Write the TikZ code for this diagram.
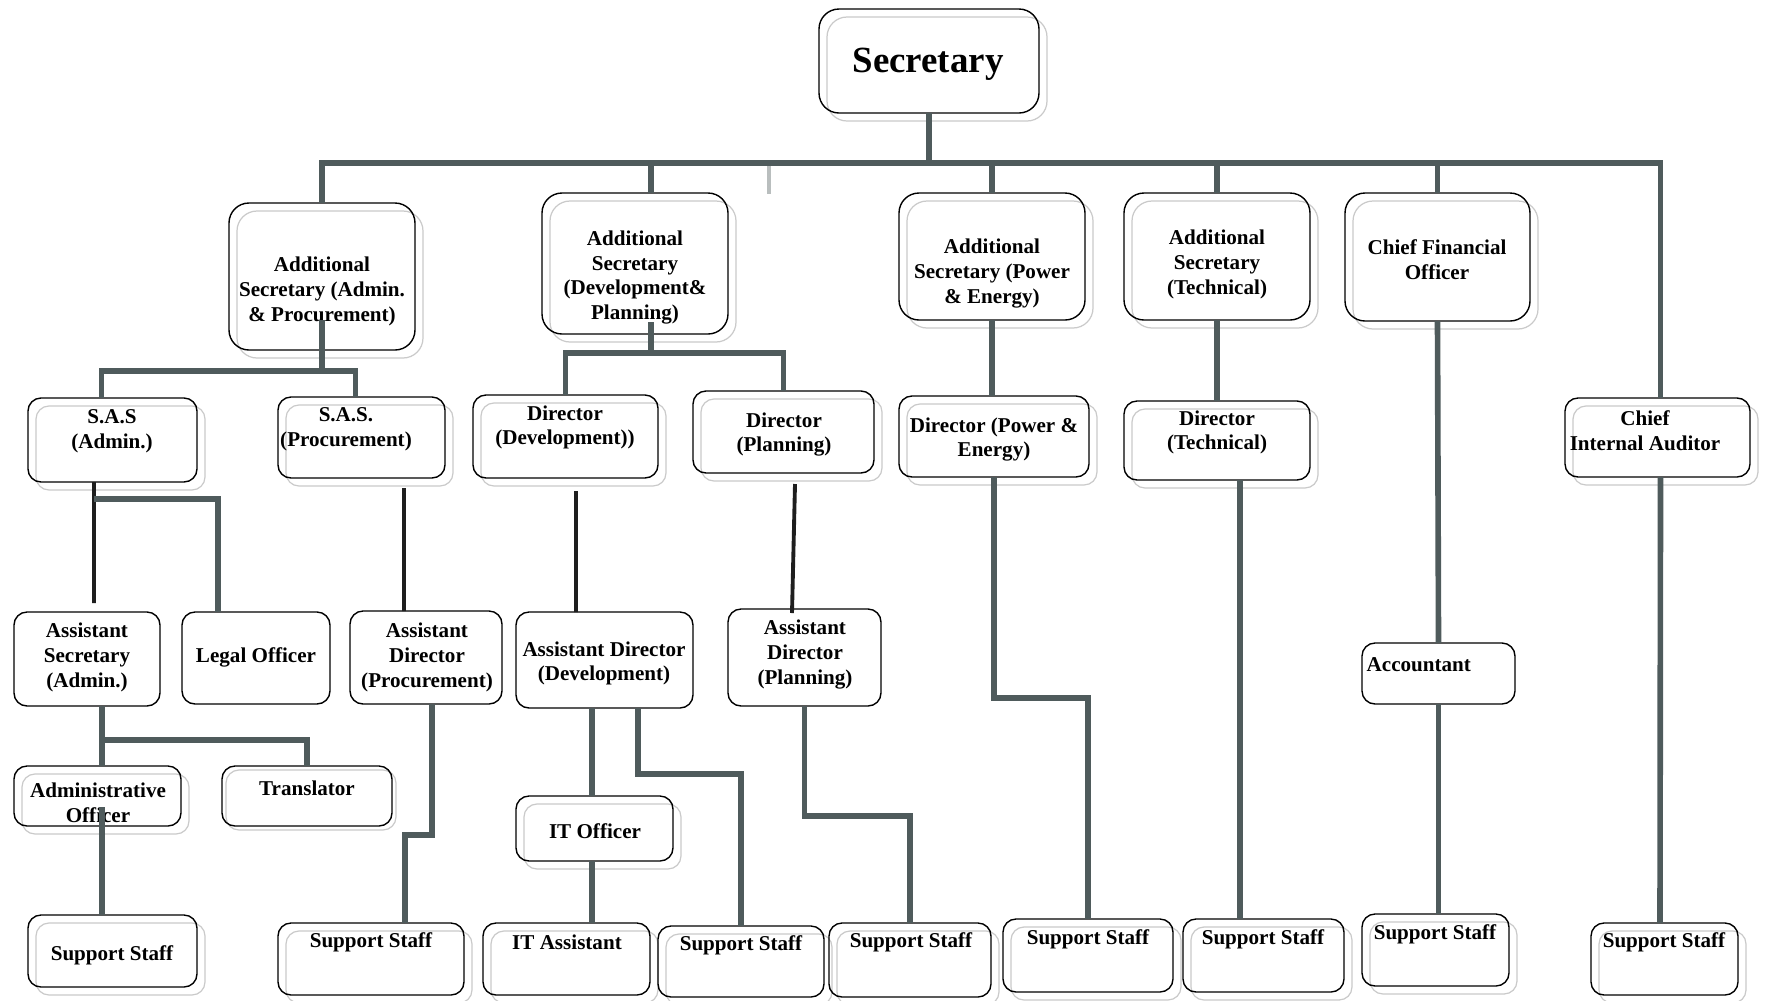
\documentclass[tikz,border=0pt]{standalone}
\usepackage{fontspec}
\setmainfont{Liberation Serif}
\usepackage{tikz}
\definecolor{linkgrey}{RGB}{79, 91, 92}
\definecolor{shadowgrey}{RGB}{202, 202, 202}
\definecolor{stubgrey}{RGB}{185, 190, 190}
\definecolor{inkblack}{RGB}{30, 30, 30}
\usetikzlibrary{fit}

\begin{document}
\begin{tikzpicture}[
    x=0.1mm, y=-0.1mm,
    unit/.style={draw=black, line width=0.4pt, rounded corners=1.3mm, inner sep=0pt, outer sep=0pt},
    head/.style={unit, rounded corners=2mm},
    shadowed/.style={preaction={draw=shadowgrey, line width=0.35pt, transform canvas={xshift=#1, yshift=-#1}}},
    shadowed/.default=0.8mm,
    caption/.style={align=center, inner sep=0pt, yshift=-0.25mm, font=\fontsize{6}{7}\selectfont\bfseries},
    link/.style={draw=linkgrey, line width=1.6pt},
    thinlink/.style={draw=inkblack, line width=1.1pt},
    stub/.style={draw=stubgrey, line width=1.4pt}
]
    \useasboundingbox (0,0) rectangle (1765,1000);

    % top
    \node[head, shadowed, fit={(819,9) (1039,113)}] (sec) {};
    \node[caption, font=\fontsize{10.5}{12}\selectfont\bfseries] (sec-t) at (928,62) {Secretary};

    % additional secretaries
    \node[head, shadowed, fit={(229,203) (415,350)}] (asA) {};
    \node[caption] (asA-t) at (322,289) {Additional\\Secretary (Admin.\\\& Procurement)};
    \node[head, shadowed, fit={(542,193) (728,334)}] (asD) {};
    \node[caption] (asD-t) at (635,275) {Additional\\Secretary\\(Development\&\\Planning)};
    \node[head, shadowed, fit={(899,193) (1085,320)}] (asP) {};
    \node[caption] (asP-t) at (992,271) {Additional\\Secretary (Power\\\& Energy)};
    \node[head, shadowed, fit={(1124,193) (1310,320)}] (asT) {};
    \node[caption] (asT-t) at (1217,262) {Additional\\Secretary\\(Technical)};
    \node[head, shadowed, fit={(1345,193) (1530,321)}] (cfo) {};
    \node[caption] (cfo-t) at (1437,257) {Chief Financial\\Officer};

    % S.A.S. and directors
    \node[unit, shadowed, fit={(28,398) (197,482)}] (sasA) {};
    \node[caption] (sasA-t) at (112,429) {S.A.S\\(Admin.)};
    \node[unit, shadowed, fit={(278,397) (445,478)}] (sasP) {};
    \node[caption] (sasP-t) at (346,427) {S.A.S.\\(Procurement)};
    \node[unit, shadowed, fit={(473,395) (658,478)}] (dirD) {};
    \node[caption] (dirD-t) at (565,425) {Director\\(Development))};
    \node[unit, shadowed, fit={(693,391) (874,473)}] (dirP) {};
    \node[caption] (dirP-t) at (784,432) {Director\\(Planning)};
    \node[unit, shadowed, fit={(899,396) (1089,477)}] (dirPE) {};
    \node[caption] (dirPE-t) at (994,437) {Director (Power \&\\Energy)};
    \node[unit, shadowed, fit={(1124,401) (1310,480)}] (dirT) {};
    \node[caption] (dirT-t) at (1217,430) {Director\\(Technical)};
    \node[unit, shadowed, fit={(1565,398) (1750,477)}] (cia) {};
    \node[caption] (cia-t) at (1645,428) {Chief\\Internal Auditor};

    % assistants
    \node[unit, fit={(14,612) (160,706)}] (asstSec) {};
    \node[caption] (asstSec-t) at (87,655) {Assistant\\Secretary\\(Admin.)};
    \node[unit, fit={(182,612) (330,704)}] (legal) {};
    \node[caption] (legal-t) at (256,655) {Legal Officer};
    \node[unit, fit={(350,611) (502,704)}] (adP) {};
    \node[caption] (adP-t) at (427,655) {Assistant\\Director\\(Procurement)};
    \node[unit, fit={(516,612) (693,708)}] (adD) {};
    \node[caption] (adD-t) at (604,661) {Assistant Director\\(Development)};
    \node[unit, fit={(728,609) (881,706)}] (adPl) {};
    \node[caption] (adPl-t) at (805,652) {Assistant\\Director\\(Planning)};
    \node[unit, fit={(1362,643) (1515,704)}] (acct) {};
    \node[caption, anchor=west] (acct-t) at (1366,662) {Accountant};

    % officers
    \node[unit, shadowed, fit={(14,766) (181,826)}] (ao) {};
    \node[caption] (ao-t) at (98,800) {Administrative\\Officer};
    \node[unit, shadowed=0.4mm, fit={(222,766) (392,826)}] (transl) {};
    \node[caption] (transl-t) at (307,786) {Translator};
    \node[unit, shadowed, fit={(516,796) (673,861)}] (ito) {};
    \node[caption] (ito-t) at (595,829) {IT Officer};

    % bottom row
    \node[unit, shadowed, fit={(28,915) (197,987)}] (ss1) {};
    \node[caption] (ss1-t) at (112,953) {Support Staff};
    \node[unit, shadowed, fit={(278,923) (464,995)}] (ss2) {};
    \node[caption] (ss2-t) at (371,940) {Support Staff};
    \node[unit, shadowed, fit={(483,923) (650,995)}] (itA) {};
    \node[caption] (itA-t) at (567,940) {IT Assistant};
    \node[unit, shadowed, fit={(658,926) (824,997)}] (ss3) {};
    \node[caption] (ss3-t) at (741,943) {Support Staff};
    \node[unit, shadowed, fit={(829,923) (991,997)}] (ss4) {};
    \node[caption] (ss4-t) at (911,940) {Support Staff};
    \node[unit, shadowed, fit={(1003,919) (1173,992)}] (ss5) {};
    \node[caption] (ss5-t) at (1088,937) {Support Staff};
    \node[unit, shadowed, fit={(1183,919) (1344,992)}] (ss6) {};
    \node[caption] (ss6-t) at (1263,937) {Support Staff};
    \node[unit, shadowed, fit={(1362,914) (1509,986)}] (ss7) {};
    \node[caption] (ss7-t) at (1435,932) {Support Staff};
    \node[unit, shadowed, fit={(1591,923) (1738,995)}] (ss8) {};
    \node[caption] (ss8-t) at (1664,940) {Support Staff};

    % connectors
    \coordinate (bus) at (929,163);
    \coordinate (stub) at (769,166);
    \coordinate (asA-j) at (322,371);
    \coordinate (asD-j) at (651,353);

    \draw[link] (sec.south) -- (bus);
    \draw[link] (bus) -| (asA.north);
    \draw[link] (bus) -| ([xshift=1.6mm]asD.north);
    \draw[link] (bus) -| (asP.north);
    \draw[link] (bus) -| (asT.north);
    \draw[link] (bus) -| (cfo.north);
    \draw[link] (bus) -| ([xshift=0.3mm]cia.north);
    \draw[stub] (stub) -- ++(0,28);

    \draw[link] ([yshift=3mm]asA.south) -- (asA-j);
    \draw[link] (asA-j) -| ([xshift=-1.1mm]sasA.north);
    \draw[link] (asA-j) -| ([xshift=-0.6mm]sasP.north);
    \draw[link] ([xshift=1.6mm,yshift=1.2mm]asD.south) -- (asD-j);
    \draw[link] (asD-j) -| (dirD.north);
    \draw[link] (asD-j) -| (dirP.north);
    \draw[link] (asP.south) -- (asP.south |- dirPE.north);
    \draw[link] (asT.south) -- (dirT.north);
    \draw[link] (cfo.south) -- (acct.north);

    \draw[thinlink] ([xshift=-1.85mm]sasA.south) -- ([xshift=0.7mm,yshift=0.9mm]asstSec.north);
    \draw[link] ([xshift=-1.85mm,yshift=-1.7mm]sasA.south) -| ([xshift=-3.8mm]legal.north);
    \draw[thinlink] ([xshift=4.25mm,yshift=-1mm]sasP.south) -- ([xshift=-2.2mm]adP.north);
    \draw[thinlink] ([xshift=1.05mm,yshift=-1.3mm]dirD.south) -- ([xshift=-2.85mm]adD.north);
    \draw[thinlink] ([xshift=1.15mm,yshift=-1.1mm]dirP.south) -- ([xshift=-1.25mm,yshift=-0.4mm]adPl.north);
    \draw[link] (dirPE.south) -- ++(0,221) -| (ss5.north);
    \draw[link] ([xshift=2.3mm]dirT.south) -- ([xshift=-2.35mm]ss6.north);
    \draw[link] (acct.south) -- (acct.south |- ss7.north);
    \draw[link] ([xshift=0.3mm]cia.south) -- ([xshift=-0.45mm]ss8.north);

    \draw[link] ([xshift=1.5mm]asstSec.south) -- ++(0,34) -| (transl.north);
    \draw[link] ([xshift=1.5mm]asstSec.south) -- ([xshift=0.45mm]ao.north);
    \draw[link] ([xshift=0.45mm,yshift=1.9mm]ao.south) -- ([xshift=-1.05mm]ss1.north);
    \draw[link] ([xshift=0.6mm]adP.south) -- ++(0,131) -| ([xshift=3.4mm]ss2.north);
    \draw[link] ([xshift=-1.25mm]adD.south) -- ([xshift=-0.25mm]ito.north);
    \draw[link] ([xshift=3.35mm]adD.south) -- ++(0,66) -| (ss3.north);
    \draw[link] ([xshift=-0.25mm]ito.south) -- ([xshift=2.55mm]itA.north);
    \draw[link] (adPl.south) -- ++(0,110) -| (ss4.north);
\end{tikzpicture}
\end{document}
